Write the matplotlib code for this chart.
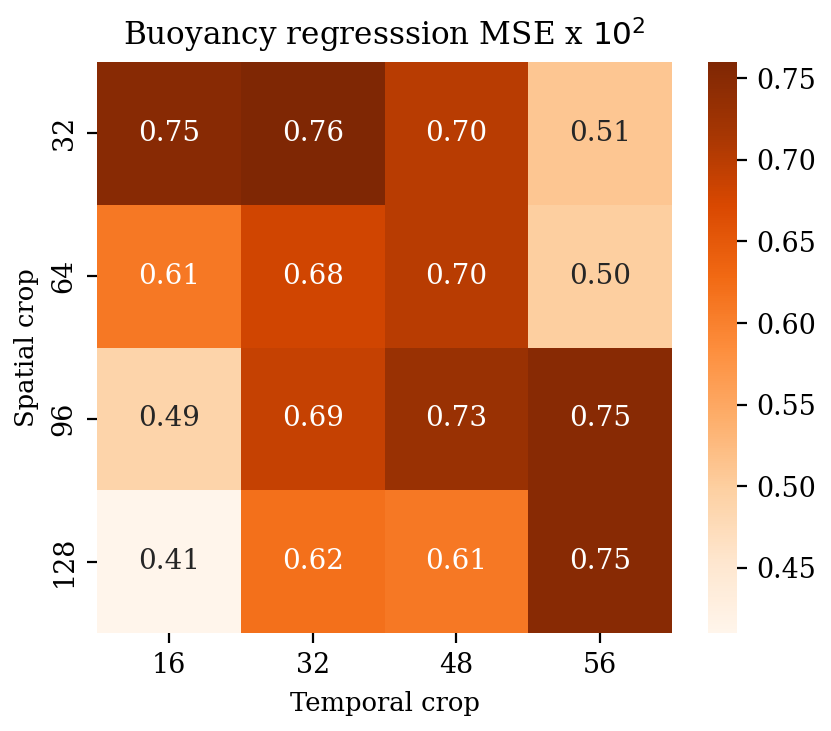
import matplotlib
matplotlib.use("Agg")
import matplotlib.pyplot as plt
import seaborn as sns
import numpy as np

spatial = ["32", "64", "96", "128"]
temporal = ["16", "32", "48", "56"]
mse = [
    [0.75, 0.76, 0.70, 0.51],
    [0.61, 0.68, 0.70, 0.50],
    [0.49, 0.69, 0.73, 0.75],
    [0.41, 0.62, 0.61, 0.75],
]

plt.rcParams['font.family'] = ['DejaVu Serif']

W, H = 831, 731
fig = plt.figure(figsize=(W / 200, H / 200), dpi=200)
ax = fig.add_axes([97 / W, (H - 633) / H, 575 / W, 571 / H])
cax = fig.add_axes([708 / W, (H - 633) / H, 29 / W, 571 / H])

sns.heatmap(np.array(mse), annot=True, fmt=".2f", cmap="Oranges",
            xticklabels=temporal, yticklabels=spatial, ax=ax, cbar_ax=cax,
            annot_kws={"fontsize": 10})
ax.set_title("Buoyancy regresssion MSE x $10^2$", fontsize=11.2)
ax.set_xlabel("Temporal crop", fontsize=9.3)
ax.set_ylabel("Spatial crop", fontsize=9.3)
ax.tick_params(labelsize=9.7)
cax.tick_params(labelsize=9.7)

fig.savefig("out.png", dpi=200)
